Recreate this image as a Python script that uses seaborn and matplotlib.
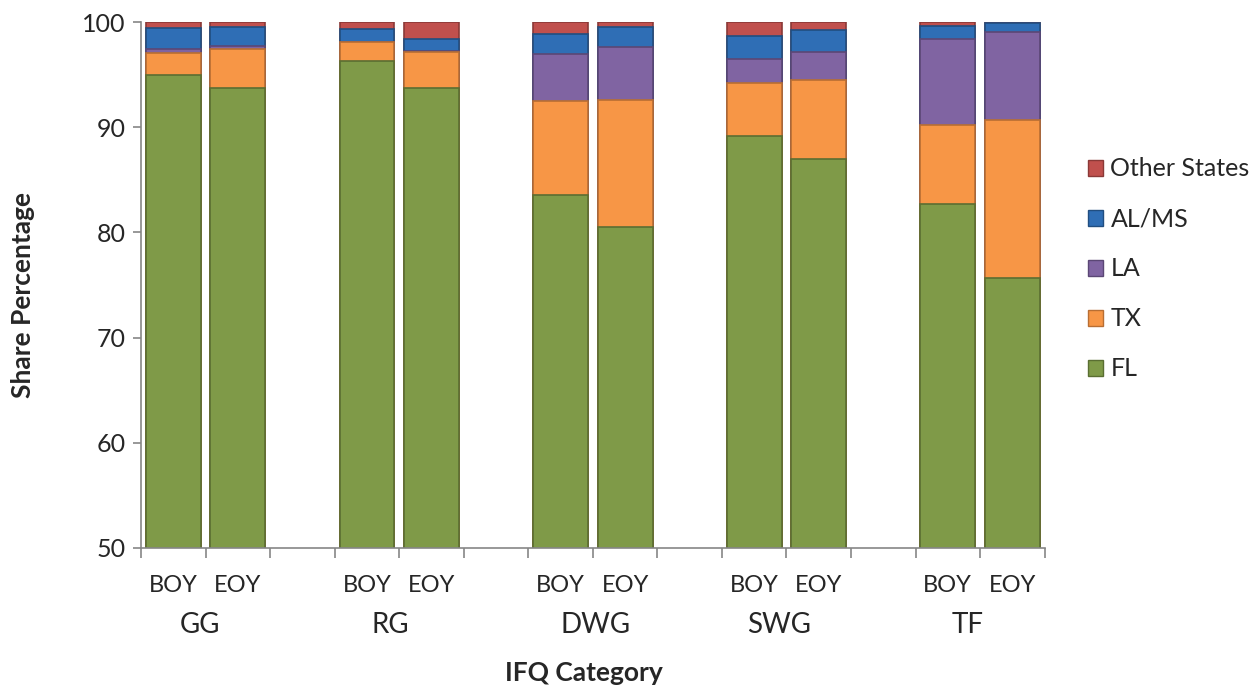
import numpy as np
import pandas as pd
import matplotlib
matplotlib.use("Agg")
import matplotlib.pyplot as plt
import matplotlib.transforms as mtransforms
from matplotlib.patches import Patch
import seaborn as sns

# chart values (share percentage)
groups = ['GG', 'RG', 'DWG', 'SWG', 'TF']
periods = ['BOY', 'EOY']
states = ['FL', 'TX', 'LA', 'AL/MS', 'Other States']
fl = [95.0, 93.7, 96.3, 93.7, 83.6, 80.5, 89.2, 87.0, 82.7, 75.7]
tx = [2.1, 3.7, 1.8, 3.5, 8.9, 12.1, 5.0, 7.5, 7.5, 15.0]
la = [0.3, 0.35, 0.05, 0.05, 4.5, 5.05, 2.3, 2.7, 8.15, 8.35]
al_ms = [2.0, 1.8, 1.15, 1.1, 1.9, 1.85, 2.2, 2.0, 1.25, 0.9]
other = [0.6, 0.45, 0.7, 1.65, 1.1, 0.5, 1.3, 0.8, 0.4, 0.05]
colors = {'FL': '#7F9A48', 'TX': '#F79646', 'LA': '#8064A2',
          'AL/MS': '#2F6EB5', 'Other States': '#C0504D'}
edges = {'FL': '#5A6E32', 'TX': '#B86E33', 'LA': '#5B4775',
         'AL/MS': '#214E80', 'Other States': '#8A3937'}
# small horizontal nudges of the group labels (in slot units)
group_nudge = [-0.08, -0.14, 0.05, -0.12, -0.2]

slots = []
rows = []
for gi, g in enumerate(groups):
    for pi, p in enumerate(periods):
        slots.append(g + ' ' + p)
        i = gi * 2 + pi
        vals = [fl[i], tx[i], la[i], al_ms[i], other[i]]
        cum = np.cumsum(vals)
        for s, c in zip(states, cum):
            rows.append({'slot': g + ' ' + p, 'state': s, 'cum': c})
    if gi < len(groups) - 1:
        slots.append('gap%d' % gi)
df = pd.DataFrame(rows)

sns.set_style('white')
plt.rcParams['font.family'] = ['Lato', 'DejaVu Sans']

fig = plt.figure(figsize=(12.54, 6.9), dpi=100)
ax = fig.add_axes([0.1125, 0.206, 0.7205, 0.762])

# stacked bars: draw cumulative totals from the top layer down
for s in states[::-1]:
    sub = df[df['state'] == s]
    sns.barplot(data=sub, x='slot', y='cum', order=slots, color=colors[s],
                width=0.85, edgecolor=edges[s], linewidth=1.2,
                saturation=1, ax=ax, zorder=2)

ax.set_ylim(50, 100)
ax.set_xlim(-0.5, len(slots) - 0.5)
ax.set_yticks(range(50, 101, 10))
ax.tick_params(axis='y', labelsize=18, length=6, width=1.2, color='#868686',
               direction='out', left=True, pad=5)
ax.set_xticks(np.arange(-0.5, len(slots), 1.0))
ax.set_xticklabels([])
ax.tick_params(axis='x', length=7, width=1.2, color='#868686',
               direction='out', bottom=True)
for side in ['top', 'right']:
    ax.spines[side].set_visible(False)
for side in ['left', 'bottom']:
    ax.spines[side].set_color('#868686')
    ax.spines[side].set_linewidth(1.2)
ax.set_xlabel('')
ax.set_ylabel('')
fig.text(23 / 1254, 1 - 295 / 690, 'Share Percentage', rotation=90,
         ha='center', va='center', fontsize=19, fontweight='bold')

trans = mtransforms.blended_transform_factory(ax.transData, fig.transFigure)
for k, name in enumerate(slots):
    if name.startswith('gap'):
        continue
    ax.text(k, 1 - 585 / 690, name.split(' ')[1], transform=trans,
            ha='center', va='center', fontsize=17)
for gi, g in enumerate(groups):
    ax.text(gi * 3 + 0.5 + group_nudge[gi], 1 - 625 / 690, g, transform=trans,
            ha='center', va='center', fontsize=20)
fig.text(584 / 1254, 1 - 673 / 690, 'IFQ Category', ha='center', va='center',
         fontsize=19, fontweight='bold')

handles = [Patch(facecolor=colors[s], edgecolor=edges[s]) for s in states[::-1]]
fig.legend(handles, states[::-1], loc='center left',
           bbox_to_anchor=(1078 / 1254, 1 - 269 / 690),
           frameon=False, fontsize=18, labelspacing=1.08, handlelength=0.6,
           handleheight=0.6, handletextpad=0.3, borderaxespad=0)

fig.savefig('out.png', dpi=100)
